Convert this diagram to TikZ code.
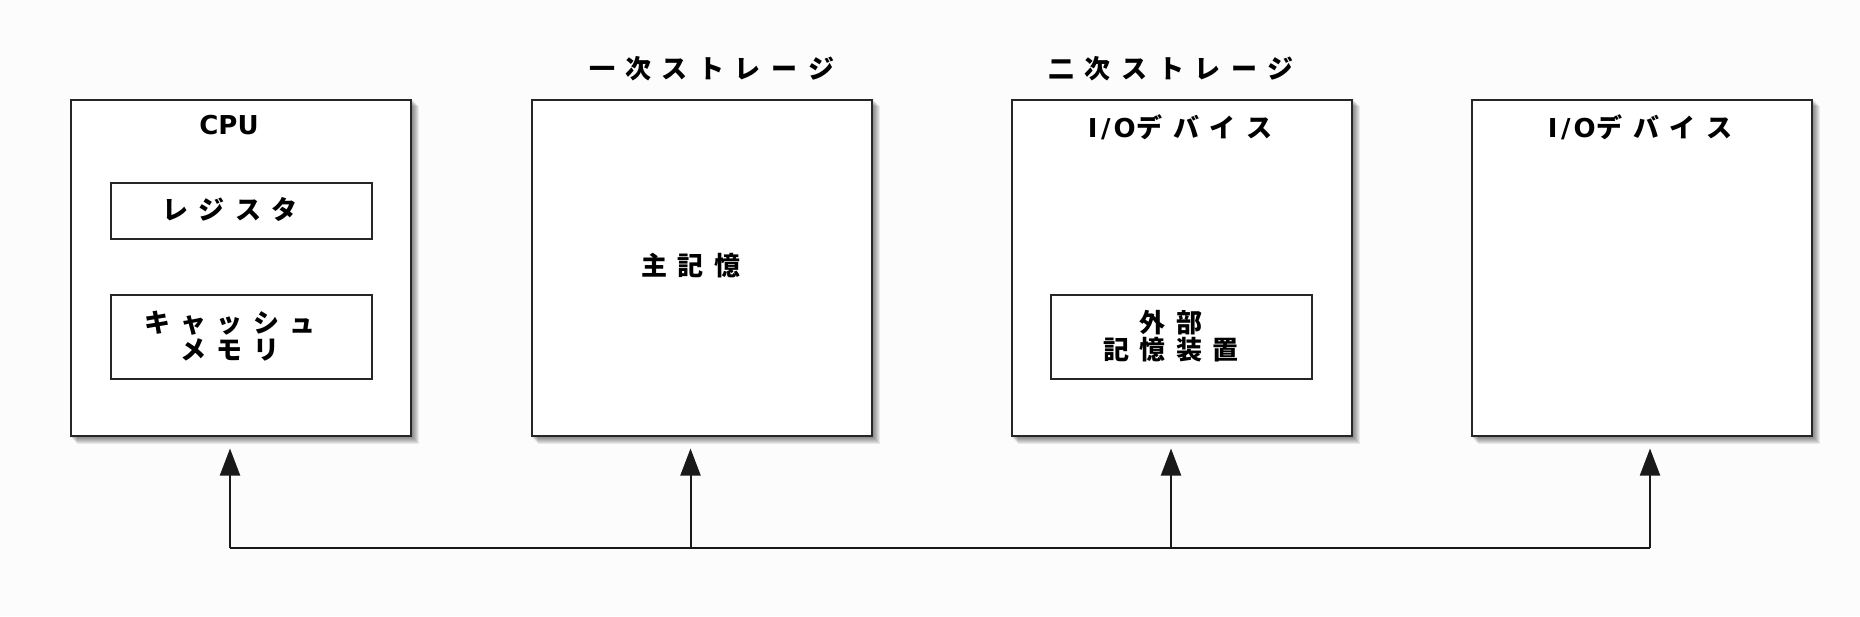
\documentclass[tikz,border=0pt]{standalone}
\usepackage{fontspec}
\setmainfont{DejaVu Sans}
\newfontfamily\jp{Noto Sans CJK JP}[UprightFont=* Bold]
\usetikzlibrary{arrows.meta,backgrounds,calc}
\newcommand\g{\hspace{10.5pt}}
\newcommand\IO{I\kern3.5pt/\kern3pt O\kern1pt}
\tikzset{
  bigbox/.style={draw=black!85, line width=2.3pt, fill=white, rectangle, inner sep=0pt,
    minimum width=340pt, minimum height=336pt, anchor=north west},
  smallbox/.style={draw=black!85, line width=2pt, fill=white, rectangle, inner sep=0pt,
    minimum width=260.5pt, anchor=north west},
  lbl/.style={inner sep=0pt, font=\fontsize{26}{28}\selectfont\bfseries, align=center},
  bus/.style={draw=black!90, line width=2pt},
  arrow/.style={bus, -{Triangle[length=27pt,width=20pt]}}
}
\begin{document}
\begin{tikzpicture}[x=1pt,y=-1pt]
\useasboundingbox (0,0) rectangle (1860,616);
% big boxes
\node[bigbox] (cpu) at (70,98.5) {};
\node[bigbox] (prim) at (530.5,98.5) {};
\node[bigbox] (sec) at (1010.5,98.5) {};
\node[bigbox] (io) at (1470.5,98.5) {};
% page and shadows
\begin{scope}[on background layer]
\fill[white!99!black] (0,0) rectangle (1860,616);
\foreach \n in {cpu,prim,sec,io}{
  \foreach \s in {1,...,7}{
    \fill[black, opacity=0.075] ($(\n.north west)+(\s,\s)$) rectangle ($(\n.south east)+(\s,\s)$);
  }
}
\end{scope}
% inner boxes
\node[smallbox, minimum height=56pt] (reg) at (110,182.3) {};
\node[smallbox, minimum height=84pt] (cache) at (110,294.3) {};
\node[smallbox, minimum height=84pt] (ext) at (1050,294.3) {};
% labels
\node[lbl] (cpul) at (229,125) {CPU};
\node[lbl] (regl) at (230,209.5) {\jp レ\g ジ\g ス\g タ};
\node[lbl] (cachel) at (230,336) {\jp キ\g ャ\g ッ\g シ\g ュ\\[-1pt]\jp メ\g モ\g リ};
\node[lbl] (primt) at (711.5,69) {\jp 一\g 次\g ス\g ト\g レ\g ー\g ジ};
\node[lbl] (priml) at (691,266) {\jp 主\g 記\g 憶};
\node[lbl] (sect) at (1171,69) {\jp 二\g 次\g ス\g ト\g レ\g ー\g ジ};
\node[lbl] (secl) at (1180,127) {\IO{\jp デ\g バ\g イ\g ス}};
\node[lbl] (extl) at (1171,336) {\jp 外\g 部\\[-1pt]\jp 記\g 憶\g 装\g 置};
\node[lbl] (iol) at (1640,127) {\IO{\jp デ\g バ\g イ\g ス}};
% bus
\coordinate (j1) at (230,548);
\coordinate (j2) at (690.5,548);
\coordinate (j3) at (1171,548);
\coordinate (j4) at (1650,548);
\coordinate (t1) at (230,448.5);
\coordinate (t2) at (690.5,448.5);
\coordinate (t3) at (1171,448.5);
\coordinate (t4) at (1650,448.5);
\draw[bus] (j1) -- (j4);
\draw[arrow] (j1) -- (t1);
\draw[arrow] (j2) -- (t2);
\draw[arrow] (j3) -- (t3);
\draw[arrow] (j4) -- (t4);
\end{tikzpicture}
\end{document}
